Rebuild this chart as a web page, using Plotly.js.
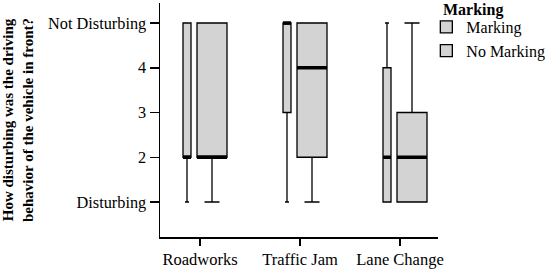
<!DOCTYPE html>
<html>
<head>
<meta charset="utf-8">
<script src="https://cdn.plot.ly/plotly-3.0.1.min.js"></script>
<style>
  body { margin: 0; background: #fff; }
  #plot1 { width: 550px; height: 270px; }
</style>
</head>
<body>
<div id="plot1"></div>
<script>
var scenarios = ['Roadworks', 'Traffic Jam', 'Lane Change'];

// five-number summaries (1 = Disturbing, 5 = Not Disturbing)
var marking_min = [1, 1, 1];
var marking_q1 = [2, 3, 1];
var marking_median = [2, 5, 2];
var marking_q3 = [5, 5, 4];
var marking_max = [5, 5, 5];

var nomarking_min = [1, 1, 1];
var nomarking_q1 = [2, 2, 1];
var nomarking_median = [2, 4, 2];
var nomarking_q3 = [5, 5, 3];
var nomarking_max = [5, 5, 5];

var y_tickvals = [1, 2, 3, 4, 5];
var y_ticktext = ['Disturbing', '2', '3', '4', 'Not Disturbing'];

var serif = 'Liberation Serif, Times New Roman, serif';
var boxFill = '#d3d3d3';

// narrow boxes for Marking, wide boxes for No Marking (variable width)
var markShift = -0.13, markWidth = 0.08;
var noShift = 0.12, noWidth = 0.30;

var trace1 = {
  type: 'box',
  name: 'Marking',
  x: scenarios.map(function (s, i) { return i + markShift; }),
  q1: marking_q1,
  median: marking_median,
  q3: marking_q3,
  lowerfence: marking_min,
  upperfence: marking_max,
  width: markWidth,
  whiskerwidth: 0.5,
  fillcolor: boxFill,
  line: { color: '#000', width: 1.3 },
  hoverinfo: 'none'
};

var trace2 = {
  type: 'box',
  name: 'No Marking',
  x: scenarios.map(function (s, i) { return i + noShift; }),
  q1: nomarking_q1,
  median: nomarking_median,
  q3: nomarking_q3,
  lowerfence: nomarking_min,
  upperfence: nomarking_max,
  width: noWidth,
  whiskerwidth: 0.5,
  fillcolor: boxFill,
  line: { color: '#000', width: 1.3 },
  hoverinfo: 'none'
};

// thick median bars drawn on top of the boxes
function medianShapes(medians, shift, w) {
  return medians.map(function (m, i) {
    return {
      type: 'line', xref: 'x', yref: 'y',
      x0: i + shift - w / 2, x1: i + shift + w / 2,
      y0: m, y1: m,
      line: { color: '#000', width: 3.5 }
    };
  });
}

var layout = {
  width: 550,
  height: 270,
  margin: { l: 160, r: 112, t: 3, b: 33, autoexpand: false },
  paper_bgcolor: '#fff',
  plot_bgcolor: '#fff',
  font: { family: serif, size: 16, color: '#000' },
  boxmode: 'overlay',
  showlegend: true,
  legend: {
    x: 0.958, xanchor: 'left', y: 0.97, yanchor: 'top',
    bgcolor: 'rgba(0,0,0,0)',
    font: { family: serif, size: 16 },
    tracegroupgap: 0,
    itemwidth: 30
  },
  annotations: [{
    text: '<b>Marking</b>',
    xref: 'paper', yref: 'paper',
    x: 1.01, y: 0.97, xanchor: 'left', yanchor: 'middle',
    showarrow: false,
    font: { family: serif, size: 16 }
  }],
  xaxis: {
    range: [-0.4, 2.38],
    tickvals: [0, 1, 2],
    ticktext: scenarios,
    showgrid: false,
    zeroline: false,
    showline: true,
    linecolor: '#000',
    linewidth: 1.5,
    ticks: 'outside',
    ticklen: 7,
    tickwidth: 1.5,
    tickcolor: '#000',
    tickfont: { family: serif, size: 16.5 }
  },
  yaxis: {
    range: [0.218, 5.447],
    tickvals: y_tickvals,
    ticktext: y_ticktext,
    showgrid: false,
    zeroline: false,
    showline: true,
    linecolor: '#000',
    linewidth: 1.5,
    ticks: 'outside',
    ticklen: 9,
    tickwidth: 1.5,
    tickcolor: '#000',
    tickfont: { family: serif, size: 16.3 },
    title: {
      text: '<b>How disturbing was the driving<br>behavior of the vehicle in front?</b>',
      font: { family: serif, size: 15 },
      standoff: 11
    }
  },
  shapes: medianShapes(marking_median, markShift, markWidth)
    .concat(medianShapes(nomarking_median, noShift, noWidth))
};

Plotly.newPlot('plot1', [trace1, trace2], layout, { displayModeBar: false, staticPlot: true });
</script>
</body>
</html>
